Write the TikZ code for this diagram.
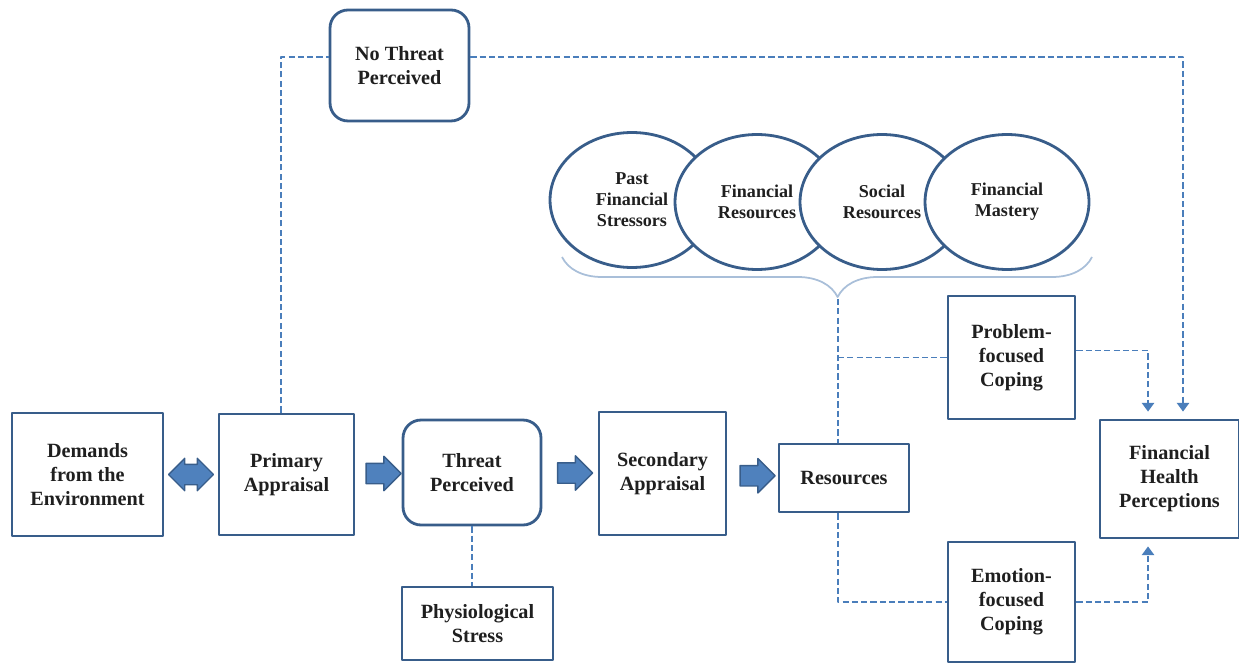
\documentclass[tikz,border=0pt]{standalone}
\usepackage{fontspec}
\setmainfont{Liberation Serif}
\usetikzlibrary{shapes.geometric,shapes.arrows,arrows.meta,calc,decorations.pathreplacing}
\definecolor{boxblue}{HTML}{385D8A}
\definecolor{linkblue}{HTML}{4A7EBB}
\definecolor{fillblue}{HTML}{4F81BD}
\definecolor{bracegray}{HTML}{A9BFD9}
\tikzset{
	box/.style={draw=boxblue, line width=1.6pt, fill=white, align=center, inner sep=2pt},
	rbox/.style={box, rounded corners=0.36cm},
	oval/.style={draw=boxblue, line width=1.6pt, fill=white, ellipse, align=center,
		minimum width=3.28cm, minimum height=2.7cm, inner sep=0pt,
		font=\bfseries\fontsize{10.3}{12}\selectfont},
	conn/.style={draw=linkblue, line width=1.1pt, dash pattern=on 3.5pt off 1.8pt},
	fatarrow/.style={shape=single arrow, draw=boxblue, fill=fillblue, line width=0.8pt,
		text height=0.19cm, text depth=0.19cm, text width=0pt, inner sep=0pt,
		minimum height=0.7cm, single arrow head extend=0.14cm},
	fatdouble/.style={shape=double arrow, draw=boxblue, fill=fillblue, line width=0.8pt,
		text height=0.19cm, text depth=0.19cm, text width=0pt, inner sep=0pt,
		minimum height=0.9cm, double arrow head extend=0.12cm}
}
\begin{document}
\begin{tikzpicture}[x=0.02cm, y=-0.02cm, line join=round, >={Triangle[length=5pt,width=7pt]},
		font=\bfseries\fontsize{11.5}{13.6}\selectfont, text=black!88]
	\useasboundingbox (0,0) rectangle (1239,665);
	% main row
	\node[box, minimum width=3.02cm, minimum height=2.46cm] (demands) at (87.5,474.5) {Demands\\from the\\Environment};
	\node[box, minimum width=2.7cm, minimum height=2.42cm] (primary) at (286.5,474.5) {Primary\\Appraisal};
	\node[rbox, minimum width=2.76cm, minimum height=2.1cm] (threat) at (472,472.5) {Threat\\Perceived};
	\node[box, minimum width=3.02cm, minimum height=1.46cm] (physio) at (477.5,623.5) {Physiological\\Stress};
	\node[box, minimum width=2.54cm, minimum height=2.46cm] (secondary) at (662.5,473.5) {Secondary\\Appraisal};
	\node[box, minimum width=2.6cm, minimum height=1.36cm] (res) at (844,478) {Resources};
	\node[box, minimum width=2.54cm, minimum height=2.46cm] (prob) at (1011.5,357.5) {Problem-\\focused\\Coping};
	\node[box, minimum width=2.54cm, minimum height=2.4cm] (emo) at (1011.5,602) {Emotion-\\focused\\Coping};
	\node[box, minimum width=2.78cm, minimum height=2.36cm] (fhp) at (1169.5,479) {Financial\\Health\\Perceptions};
	\node[rbox, minimum width=2.78cm, minimum height=2.22cm] (nothreat) at (399.5,65.5) {No Threat\\Perceived};
	% resource ovals
	\node[oval] (past) at (632,200) {Past\\Financial\\Stressors};
	\node[oval] (finres) at (757,202) {Financial\\Resources};
	\node[oval] (social) at (882,202) {Social\\Resources};
	\node[oval] (mastery) at (1007,202) {Financial\\Mastery};
	% block arrows
	\node[fatdouble] (ar0) at ($(demands.east)!0.5!(primary.west)$) {};
	\node[fatarrow] (ar1) at ($(primary.east)!0.5!(threat.west)$) {};
	\node[fatarrow] (ar2) at ($(threat.east)!0.5!(secondary.west)$) {};
	\node[fatarrow] (ar3) at ($(secondary.east)!0.5!(res.west)$) {};
	% brace
	\draw[bracegray, line width=1pt, decorate, decoration={brace, mirror, amplitude=0.8cm, aspect=0.52}]
		(562,257) -- (1092,257);
	\coordinate (tip) at (838,299);
	% dashed links
	\draw[conn] ([xshift=-0.11cm]primary.north) |- ([yshift=0.17cm]nothreat.west);
	\draw[conn, ->, shorten >=0.14cm] ([yshift=0.17cm]nothreat.east) -| ([xshift=0.27cm]fhp.north);
	\draw[conn] (threat.south) -- (threat.south |- physio.north);
	\draw[conn] (tip) -- (tip |- res.north);
	\draw[conn] (tip |- prob.west) -- (prob.west);
	\draw[conn] ([xshift=-0.12cm]res.south) |- (emo.west);
	\draw[conn, ->, shorten >=0.14cm] ([yshift=0.14cm]prob.east) -| ([xshift=-0.43cm]fhp.north);
	\draw[conn, ->, shorten >=0.14cm] (emo.east) -| ([xshift=-0.43cm]fhp.south);
\end{tikzpicture}
\end{document}
